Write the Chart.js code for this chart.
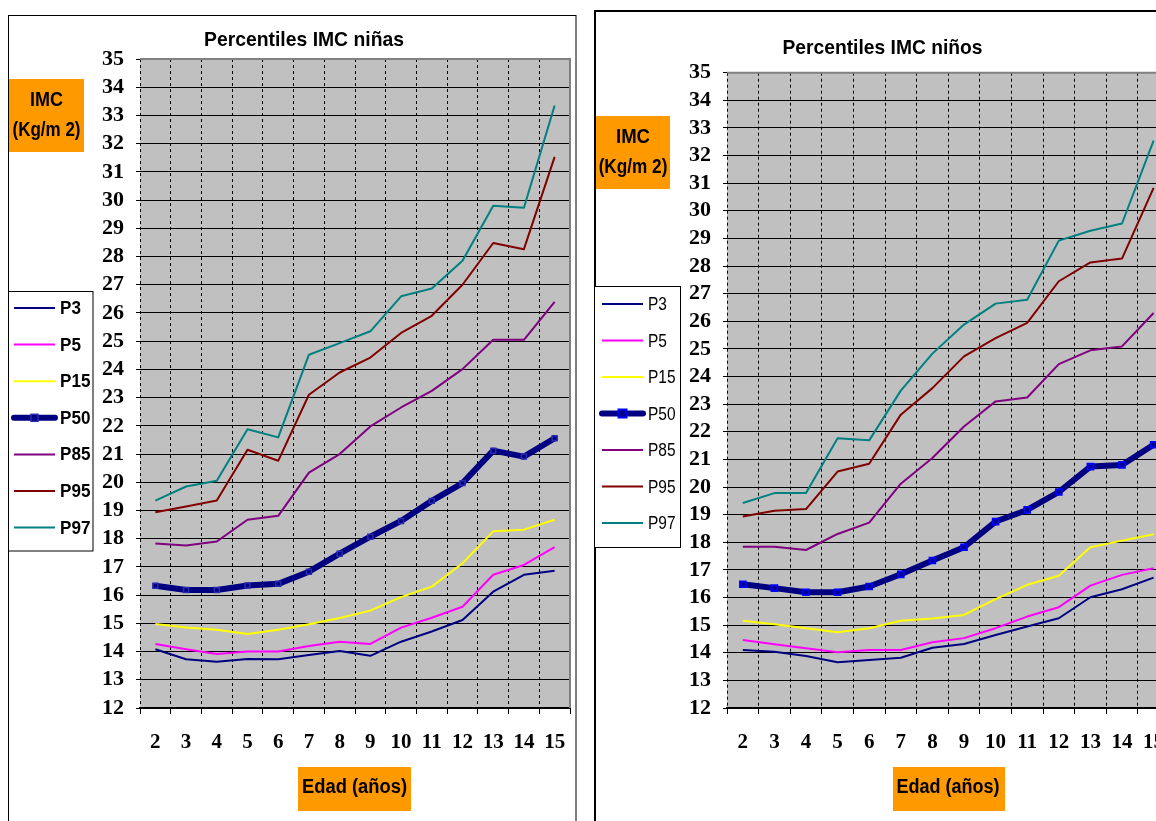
<!DOCTYPE html>
<html>
<head>
<meta charset="utf-8">
<title>Percentiles IMC</title>
<script src="https://cdn.jsdelivr.net/npm/chart.js@4.4.1/dist/chart.umd.min.js"></script>
<style>
  html, body { margin: 0; padding: 0; background: #fff; overflow: hidden; width: 1156px; height: 821px; }
  canvas { position: absolute; top: 0; }
  #girls { left: 0; }
  #boys { left: 588px; }
</style>
</head>
<body>
<canvas id="girls" width="585" height="821"></canvas>
<canvas id="boys" width="588" height="821"></canvas>
<script>
// Age categories (years) and value range of the IMC axis
const ages = ['2', '3', '4', '5', '6', '7', '8', '9', '10', '11', '12', '13', '14', '15'];
const yMin = 12;
const yMax = 35;
const yStep = 1;

// Percentile series names and line colours
const seriesNames = ['P3', 'P5', 'P15', 'P50', 'P85', 'P95', 'P97'];
const seriesColors = ['#000080', '#FF00FF', '#FFFF00', '#000080', '#800080', '#800000', '#008080'];

// Girls (niñas) IMC percentiles by age
const girlsP3  = [14.08, 13.73, 13.64, 13.74, 13.73, 13.88, 14.02, 13.85, 14.35, 14.71, 15.12, 16.12, 16.72, 16.86];
const girlsP5  = [14.27, 14.08, 13.91, 14.00, 14.00, 14.20, 14.35, 14.27, 14.85, 15.20, 15.59, 16.72, 17.07, 17.70];
const girlsP15 = [14.98, 14.85, 14.77, 14.62, 14.77, 14.97, 15.19, 15.45, 15.93, 16.30, 17.13, 18.26, 18.32, 18.67];
const girlsP50 = [16.33, 16.18, 16.18, 16.34, 16.40, 16.83, 17.47, 18.07, 18.63, 19.34, 19.97, 21.12, 20.91, 21.56];
const girlsP85 = [17.83, 17.76, 17.90, 18.67, 18.81, 20.34, 21.00, 21.98, 22.65, 23.24, 24.01, 25.05, 25.05, 26.39];
const girlsP95 = [18.94, 19.14, 19.35, 21.15, 20.76, 23.10, 23.89, 24.42, 25.29, 25.90, 27.00, 28.48, 28.26, 31.53];
const girlsP97 = [19.35, 19.85, 20.05, 21.88, 21.59, 24.52, 24.93, 25.35, 26.59, 26.87, 27.85, 29.80, 29.73, 33.35];

// Boys (niños) IMC percentiles by age
const boysP3  = [14.10, 14.04, 13.88, 13.66, 13.74, 13.82, 14.18, 14.32, 14.64, 14.95, 15.25, 16.01, 16.30, 16.72];
const boysP5  = [14.46, 14.31, 14.16, 14.02, 14.10, 14.10, 14.38, 14.53, 14.89, 15.31, 15.65, 16.43, 16.82, 17.06];
const boysP15 = [15.16, 15.03, 14.89, 14.74, 14.89, 15.16, 15.24, 15.37, 15.94, 16.46, 16.79, 17.82, 18.06, 18.29];
const boysP50 = [16.48, 16.34, 16.19, 16.19, 16.40, 16.84, 17.34, 17.82, 18.75, 19.17, 19.82, 20.74, 20.80, 21.53];
const boysP85 = [17.84, 17.84, 17.72, 18.30, 18.71, 20.12, 21.05, 22.19, 23.10, 23.24, 24.45, 24.95, 25.09, 26.30];
const boysP95 = [18.93, 19.14, 19.20, 20.56, 20.84, 22.62, 23.58, 24.73, 25.39, 25.94, 27.45, 28.13, 28.27, 30.83];
const boysP97 = [19.42, 19.78, 19.78, 21.77, 21.69, 23.49, 24.83, 25.88, 26.64, 26.78, 28.92, 29.28, 29.54, 32.54];

const SANS = "'Liberation Sans', Arial, sans-serif";
const SERIF = "'Liberation Serif', 'Times New Roman', serif";
const ORANGE = '#FF9900';

// Draws a line of text squeezed (or stretched) horizontally to a given width
function drawText(ctx, text, x, y, font, width, align, scaleX) {
  ctx.font = font;
  const w = ctx.measureText(text).width;
  const sx = width ? width / w : (scaleX || 1);
  ctx.save();
  ctx.translate(x, y);
  ctx.scale(sx, 1);
  ctx.textAlign = align || 'center';
  ctx.textBaseline = 'alphabetic';
  ctx.fillStyle = '#000';
  ctx.fillText(text, 0, 0);
  ctx.restore();
}

function makeChart(id, values, L) {
  const datasets = seriesNames.map((name, i) => {
    const main = name === 'P50';
    return {
      label: name,
      data: values[i],
      borderColor: seriesColors[i],
      backgroundColor: seriesColors[i],
      borderWidth: main ? 6 : 2,
      borderJoinStyle: 'round',
      borderCapStyle: main ? 'round' : 'butt',
      tension: 0,
      pointRadius: main ? L.markerR : 0,
      pointStyle: 'rect',
      pointBackgroundColor: '#000080',
      pointBorderColor: L.markerEdge,
      pointBorderWidth: main ? L.markerW : 0
    };
  });

  // Plot background, frame, axis title boxes and the legend
  const decor = {
    id: 'decor',
    beforeDraw(chart) {
      const { ctx, chartArea: ca } = chart;
      ctx.save();
      ctx.fillStyle = '#C0C0C0';
      ctx.fillRect(ca.left, ca.top, ca.right - ca.left, ca.bottom - ca.top);
      ctx.restore();
    },
    afterDraw(chart) {
      const { ctx, chartArea: ca } = chart;
      ctx.save();
      ctx.setLineDash([]);

      // grey top and right edges of the plot area
      ctx.strokeStyle = '#808080';
      ctx.lineWidth = 2;
      ctx.beginPath();
      ctx.moveTo(ca.left, ca.top);
      ctx.lineTo(ca.right, ca.top);
      ctx.lineTo(ca.right, ca.bottom);
      ctx.stroke();

      // title
      drawText(ctx, L.title.text, L.title.x, L.title.y, 'bold 21px ' + SANS, L.title.w);

      // orange IMC box
      const yb = L.yBox;
      ctx.fillStyle = ORANGE;
      ctx.fillRect(yb.x, yb.y, yb.w, yb.h);
      drawText(ctx, 'IMC', yb.cx, yb.l1y, 'bold 20px ' + SANS, yb.l1w);
      drawText(ctx, '(Kg/m 2)', yb.cx, yb.l2y, 'bold 20px ' + SANS, yb.l2w);

      // orange age box
      const xb = L.xBox;
      ctx.fillStyle = ORANGE;
      ctx.fillRect(xb.x, xb.y, xb.w, xb.h);
      drawText(ctx, 'Edad (años)', xb.cx, xb.ty, 'bold 20px ' + SANS, xb.tw);

      // outer frame
      const f = L.frame;
      ctx.strokeStyle = '#000';
      ctx.lineWidth = f.lw;
      ctx.strokeRect(f.x, f.y, f.w, f.h);

      // legend
      const lg = L.legend;
      ctx.fillStyle = '#fff';
      ctx.fillRect(lg.x, lg.y, lg.w, lg.h);
      ctx.strokeStyle = '#000';
      ctx.lineWidth = 1;
      ctx.strokeRect(lg.x, lg.y, lg.w, lg.h);
      chart.data.datasets.forEach((ds, i) => {
        const y = lg.y0 + i * lg.step;
        ctx.save();
        ctx.strokeStyle = ds.borderColor;
        ctx.lineWidth = ds.borderWidth;
        ctx.lineCap = ds.borderCapStyle;
        ctx.beginPath();
        ctx.moveTo(lg.lx1, y);
        ctx.lineTo(lg.lx2, y);
        ctx.stroke();
        if (ds.pointRadius > 0) {
          const r = ds.pointRadius;
          const cx = (lg.lx1 + lg.lx2) / 2;
          ctx.fillStyle = ds.pointBackgroundColor;
          ctx.fillRect(cx - r, y - r, 2 * r, 2 * r);
          ctx.strokeStyle = ds.pointBorderColor;
          ctx.lineWidth = ds.pointBorderWidth;
          ctx.lineCap = 'butt';
          ctx.strokeRect(cx - r, y - r, 2 * r, 2 * r);
        }
        ctx.restore();
        drawText(ctx, ds.label, lg.tx, y + 6, lg.font, null, 'left', lg.tscale);
      });
      ctx.restore();
    }
  };

  return new Chart(document.getElementById(id), {
    type: 'line',
    data: { labels: ages, datasets },
    options: {
      responsive: false,
      animation: false,
      events: [],
      layout: { padding: { top: L.padTop, right: L.padRight, left: 0, bottom: 0 } },
      plugins: { legend: { display: false }, title: { display: false }, tooltip: { enabled: false } },
      scales: {
        x: {
          type: 'category',
          offset: true,
          grid: { offset: true, color: '#000', lineWidth: 1, drawTicks: true, tickLength: 6, tickColor: '#000', tickBorderDash: [] },
          border: { display: true, color: '#000', width: 2, dash: [3, 3] },
          ticks: {
            color: '#000',
            font: { family: SERIF, weight: 'bold', size: 21 },
            padding: 16,
            maxRotation: 0,
            autoSkip: false
          },
          afterFit(s) { s.height = L.xAxisH; s.paddingLeft = 0; s.paddingRight = 0; }
        },
        y: {
          min: yMin,
          max: yMax,
          grid: { color: '#000', lineWidth: 1, drawTicks: true, tickLength: 7, tickColor: '#000', tickBorderDash: [0, 3, 4, 20] },
          border: { display: false, dash: [] },
          ticks: {
            stepSize: yStep,
            autoSkip: false,
            color: '#000',
            font: { family: SERIF, weight: 'bold', size: 22 },
            padding: 9
          },
          afterFit(s) { s.width = L.yAxisW; s.paddingTop = 0; s.paddingBottom = 0; }
        }
      }
    },
    plugins: [decor]
  });
}

makeChart('girls', [girlsP3, girlsP5, girlsP15, girlsP50, girlsP85, girlsP95, girlsP97], {
  padTop: 59, padRight: 15, yAxisW: 140, xAxisH: 113,
  markerEdge: '#2A2AB0', markerR: 3.5, markerW: 1.5,
  frame: { x: 8.5, y: 15.5, w: 567.5, h: 900, lw: 1 },
  title: { text: 'Percentiles IMC niñas', x: 304, y: 46, w: 200 },
  yBox: { x: 9, y: 79, w: 75, h: 73, cx: 46.5, l1y: 106, l1w: 33, l2y: 136, l2w: 68 },
  xBox: { x: 298, y: 767, w: 113, h: 44, cx: 354.5, ty: 793, tw: 105 },
  legend: { x: 8.5, y: 291.5, w: 84.5, h: 259.5, lx1: 14, lx2: 55, tx: 60, y0: 308, step: 36.6,
            font: 'bold 18px ' + SANS, tscale: 0.95 }
});

makeChart('boys', [boysP3, boysP5, boysP15, boysP50, boysP85, boysP95, boysP97], {
  padTop: 72.7, padRight: 6.6, yAxisW: 139, xAxisH: 113,
  markerEdge: '#0000FF', markerR: 4, markerW: 2,
  frame: { x: 7, y: 11, w: 700, h: 900, lw: 2 },
  title: { text: 'Percentiles IMC niños', x: 294.5, y: 54, w: 200 },
  yBox: { x: 8, y: 116, w: 74, h: 73, cx: 45, l1y: 142.7, l1w: 34, l2y: 173.3, l2w: 68.7 },
  xBox: { x: 305, y: 767, w: 112, h: 44, cx: 360, ty: 793, tw: 103 },
  legend: { x: 6.5, y: 286.5, w: 86, h: 261, lx1: 14, lx2: 55, tx: 60, y0: 304, step: 36.5,
            font: '18px ' + SANS, tscale: 0.86 }
});
</script>
</body>
</html>
